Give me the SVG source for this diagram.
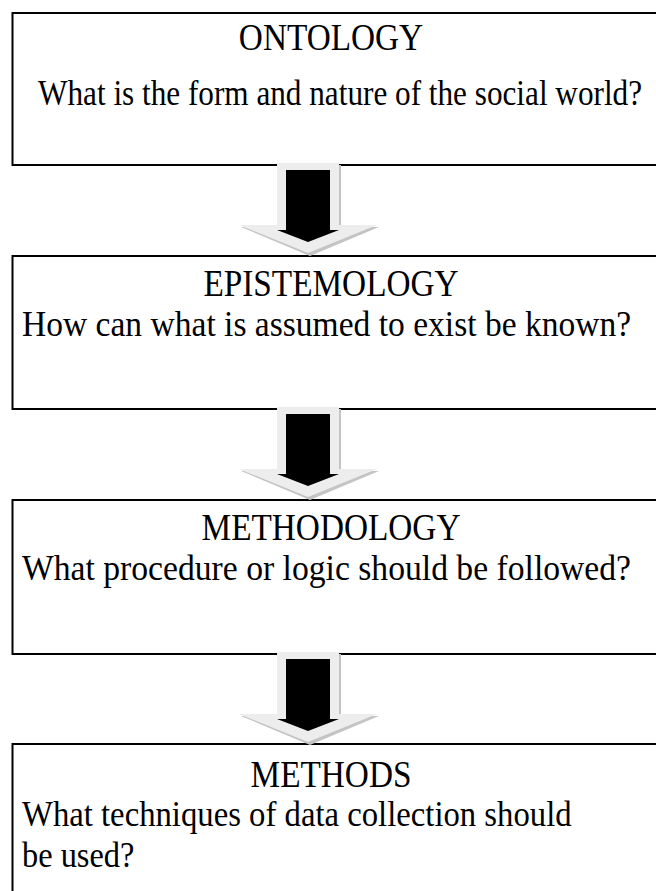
<svg xmlns="http://www.w3.org/2000/svg" width="656" height="891" viewBox="0 0 656 891">
  <style>
    .box { fill: #ffffff; stroke: #000000; stroke-width: 2; }
    .title { font-family: "Liberation Serif", "Times New Roman", serif; font-size: 37px; fill: #000; text-anchor: middle; }
    .body { font-family: "Liberation Serif", "Times New Roman", serif; font-size: 36px; fill: #000; }
    .halo { fill: #ededed; }
    .shade { fill: #c4c4c4; }
    .core { fill: #000000; }
  </style>
  <defs>
    <!-- block arrow: pale bevel behind a solid black arrow, origin at top-centre -->
    <g id="blockArrow">
      <polygon class="shade" points="-29,2 33,2 33,64 71,64 2,93 -67,64 -29,64"/>
      <polygon class="halo" points="-31,0 31,0 31,62 69,62 0,90 -69,62 -31,62"/>
      <polygon class="core" points="-22,7 22,7 22,67 31,67 0,79 -31,67 -22,67"/>
    </g>
  </defs>
  <rect width="656" height="891" fill="#ffffff"/>

  <g id="ontology">
    <rect class="box" x="12.5" y="13" width="700" height="152"/>
    <text class="title" transform="translate(331,50) scale(0.9,1)">ONTOLOGY</text>
    <text class="body" transform="translate(38,105) scale(0.867,1)">What is the form and nature of the social world?</text>
  </g>

  <g id="epistemology">
    <rect class="box" x="12.5" y="256" width="700" height="153"/>
    <text class="title" transform="translate(331,296) scale(0.9,1)">EPISTEMOLOGY</text>
    <text class="body" transform="translate(22,336) scale(0.932,1)">How can what is assumed to exist be known?</text>
  </g>

  <g id="methodology">
    <rect class="box" x="12.5" y="500" width="700" height="154"/>
    <text class="title" transform="translate(331,540) scale(0.9,1)">METHODOLOGY</text>
    <text class="body" transform="translate(22,580) scale(0.935,1)">What procedure or logic should be followed?</text>
  </g>

  <g id="methods">
    <rect class="box" x="12.5" y="744" width="700" height="200"/>
    <text class="title" transform="translate(331,787) scale(0.9,1)">METHODS</text>
    <text class="body" transform="translate(22,826) scale(0.909,1)">What techniques of data collection should</text>
    <text class="body" transform="translate(22,867) scale(0.9,1)">be used?</text>
  </g>

  <g id="connectors">
    <use href="#blockArrow" x="308" y="163"/>
    <use href="#blockArrow" x="308" y="407"/>
    <use href="#blockArrow" x="308" y="652"/>
  </g>
</svg>
